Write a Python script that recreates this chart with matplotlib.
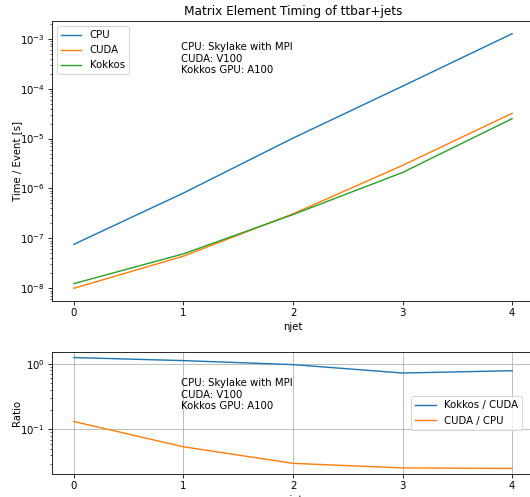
import matplotlib
matplotlib.use("Agg")
import matplotlib.pyplot as plt
import matplotlib.transforms as mtrans
import numpy as np

njet = [0, 1, 2, 3, 4]
cpu = [7.6e-8, 8.1e-7, 1.02e-5, 1.12e-4, 1.26e-3]
cuda = [1.0e-8, 4.4e-8, 3.1e-7, 2.9e-6, 3.2e-5]
kokkos = [1.24e-8, 4.9e-8, 3.0e-7, 2.09e-6, 2.5e-5]

info = "CPU: Skylake with MPI\nCUDA: V100\nKokkos GPU: A100"

dpi = 73
W, H = 530, 497
fig = plt.figure(figsize=(W / dpi, H / dpi), dpi=dpi)
ax1 = fig.add_axes([52 / W, 1 - 301 / H, (534 - 52) / W, (301 - 21) / H])
ax2 = fig.add_axes([52 / W, 1 - 474 / H, (534 - 52) / W, (474 - 352) / H])

ax1.plot(njet, cpu, label="CPU", lw=1.4)
ax1.plot(njet, cuda, label="CUDA", lw=1.4)
ax1.plot(njet, kokkos, label="Kokkos", lw=1.4)
ax1.set_yscale("log")
ax1.set_xticks(njet)
ax1.set_xlabel("njet")
ax1.set_ylabel("Time / Event [s]")
ax1.yaxis.set_label_coords(-0.062, 0.5)
ax1.set_title("Matrix Element Timing of ttbar+jets")
ax1.legend(loc="upper left")
ax1.text(0.98, 0.925, info,
         transform=mtrans.blended_transform_factory(ax1.transData, ax1.transAxes),
         va="top")

r1 = np.array(kokkos) / np.array(cuda)
r2 = np.array(cuda) / np.array(cpu)
ax2.plot(njet, r1, label="Kokkos / CUDA", lw=1.4)
ax2.plot(njet, r2, label="CUDA / CPU", lw=1.4)
ax2.set_yscale("log")
ax2.set_xticks(njet)
ax2.grid(True)
ax2.set_xlabel("njet")
ax2.set_ylabel("Ratio")
ax2.yaxis.set_label_coords(-0.062, 0.5)
ax2.legend(loc="center right", bbox_to_anchor=(0.985, 0.5))
ax2.text(0.98, 0.785, info,
         transform=mtrans.blended_transform_factory(ax2.transData, ax2.transAxes),
         va="top")

fig.savefig("out.png", dpi=dpi)
